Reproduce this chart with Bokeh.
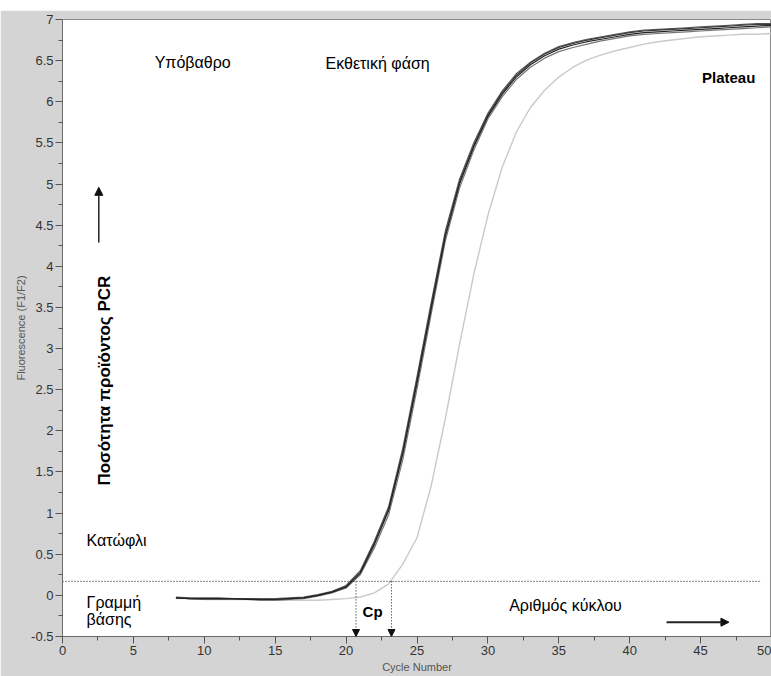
from math import pi
from bokeh.plotting import figure
from bokeh.models import FixedTicker, Label, Arrow, NormalHead, Spacer, Range1d
from bokeh.layouts import column
from bokeh.embed import file_html
from bokeh.resources import INLINE

# ---------------- data ----------------
cycles = [8, 9, 10, 11, 12, 13, 14, 15, 16, 17, 18, 19, 20, 21, 22, 23, 24, 25, 26, 27, 28, 29,
          30, 31, 32, 33, 34, 35, 36, 37, 38, 39, 40, 41, 42, 43, 44, 45, 46, 47, 48, 49, 50]

dark_a = [-0.03, -0.04, -0.04, -0.04, -0.04, -0.05, -0.05, -0.05, -0.04, -0.03, 0.00, 0.04, 0.10,
          0.27, 0.62, 1.03, 1.72, 2.58, 3.48, 4.36, 5.00, 5.45, 5.82, 6.09, 6.30, 6.45, 6.56, 6.64,
          6.69, 6.73, 6.76, 6.79, 6.82, 6.84, 6.85, 6.86, 6.87, 6.88, 6.89, 6.90, 6.91, 6.92, 6.93]
dark_b = [-0.02, -0.03, -0.03, -0.03, -0.04, -0.04, -0.04, -0.04, -0.03, -0.02, 0.01, 0.05, 0.12,
          0.30, 0.66, 1.08, 1.79, 2.66, 3.56, 4.43, 5.06, 5.50, 5.86, 6.13, 6.34, 6.48, 6.59, 6.67,
          6.72, 6.76, 6.79, 6.82, 6.85, 6.87, 6.88, 6.89, 6.90, 6.91, 6.92, 6.93, 6.94, 6.95, 6.95]
dark_c = [-0.03, -0.04, -0.05, -0.05, -0.05, -0.05, -0.06, -0.06, -0.05, -0.04, -0.01, 0.03, 0.09,
          0.25, 0.58, 0.98, 1.65, 2.51, 3.42, 4.31, 4.95, 5.41, 5.79, 6.06, 6.27, 6.42, 6.53, 6.61,
          6.66, 6.70, 6.74, 6.77, 6.80, 6.82, 6.83, 6.84, 6.85, 6.86, 6.87, 6.88, 6.89, 6.90, 6.91]
dark_d = [-0.03, -0.04, -0.04, -0.04, -0.04, -0.04, -0.05, -0.05, -0.04, -0.03, 0.00, 0.04, 0.11,
          0.28, 0.64, 1.05, 1.75, 2.62, 3.52, 4.39, 5.03, 5.47, 5.84, 6.11, 6.32, 6.47, 6.58, 6.66,
          6.71, 6.75, 6.78, 6.81, 6.84, 6.86, 6.87, 6.88, 6.89, 6.90, 6.91, 6.92, 6.93, 6.94, 6.94]
light = [-0.04, -0.04, -0.05, -0.05, -0.05, -0.05, -0.06, -0.06, -0.06, -0.06, -0.06, -0.05, -0.04,
         -0.02, 0.03, 0.14, 0.38, 0.70, 1.33, 2.15, 3.05, 3.90, 4.62, 5.20, 5.63, 5.93, 6.14, 6.30,
         6.42, 6.51, 6.57, 6.62, 6.66, 6.70, 6.73, 6.75, 6.77, 6.79, 6.80, 6.81, 6.82, 6.82, 6.83]

threshold = 0.17
threshold_end = 49.3
cp_values = [20.7, 23.2]

x_ticks = [0, 5, 10, 15, 20, 25, 30, 35, 40, 45, 50]
x_minor = [2.5, 7.5, 12.5, 17.5, 22.5, 27.5, 32.5, 37.5, 42.5, 47.5]
y_ticks = [-0.5, 0, 0.5, 1, 1.5, 2, 2.5, 3, 3.5, 4, 4.5, 5, 5.5, 6, 6.5, 7]
y_tick_labels = ["-0.5", "0", "0.5", "1", "1.5", "2", "2.5", "3", "3.5", "4", "4.5", "5",
                 "5.5", "6", "6.5", "7"]
y_minor = [-0.25, 0.25, 0.75, 1.25, 1.75, 2.25, 2.75, 3.25, 3.75, 4.25, 4.75, 5.25, 5.75,
           6.25, 6.75]

FONT = "Liberation Sans"
GRAY = "#d4d4d4"

# ---------------- figure ----------------
p = figure(width=771, height=666, x_range=Range1d(0, 50), y_range=Range1d(-0.5, 7),
           output_backend="svg", toolbar_location=None,
           min_border_left=62, min_border_right=0, min_border_top=9, min_border_bottom=40,
           background_fill_color="white", border_fill_color=GRAY)
p.xgrid.visible = False
p.ygrid.visible = False
p.outline_line_color = "#8a8a8a"

p.xaxis.ticker = FixedTicker(ticks=x_ticks, minor_ticks=x_minor)
p.yaxis.ticker = FixedTicker(ticks=y_ticks, minor_ticks=y_minor)
p.yaxis.major_label_overrides = {float(t): s for t, s in zip(y_ticks, y_tick_labels)}

for ax in (p.xaxis[0], p.yaxis[0]):
    ax.axis_line_color = "#6a6a6a"
    ax.major_tick_line_color = "#555555"
    ax.minor_tick_line_color = "#555555"
    ax.major_tick_in = 0
    ax.minor_tick_in = 0
    ax.major_tick_out = 7
    ax.minor_tick_out = 4
    ax.major_label_text_font = FONT
    ax.major_label_text_font_size = "13px"
    ax.major_label_text_color = "#333333"
    ax.major_label_standoff = 2
    ax.axis_label_text_font = FONT
    ax.axis_label_text_font_size = "11px"
    ax.axis_label_text_font_style = "normal"
    ax.axis_label_text_color = "#555555"

p.xaxis.axis_label_standoff = 3
p.yaxis.axis_label_standoff = 1
p.xaxis.axis_label = "Cycle Number"
p.yaxis.axis_label = "Fluorescence (F1/F2)"

# curves
p.line(cycles, light, line_color="#c9c9c9", line_width=1.4)
p.line(cycles, dark_c, line_color="#777777", line_width=1.2)
p.line(cycles, dark_b, line_color="#5a5a5a", line_width=1.2)
p.line(cycles, dark_d, line_color="#3a3a3a", line_width=1.2)
p.line(cycles, dark_a, line_color="#222222", line_width=1.2)

# threshold
p.segment(x0=[0], y0=[threshold], x1=[threshold_end], y1=[threshold],
          line_color="#111111", line_width=1, line_dash="1 2")

# Cp arrows
for cp in cp_values:
    p.add_layout(Arrow(x_start=cp, y_start=threshold, x_end=cp, y_end=-0.5,
                       line_color="#111111", line_width=1, line_dash="1 2",
                       end=NormalHead(size=7, fill_color="#111111", line_color="#111111")))

# annotations
def lab(x, y, text, size="16px", bold=False, **kw):
    p.add_layout(Label(x=x, y=y, text=text, text_font=FONT, text_font_size=size,
                       text_font_style="bold" if bold else "normal", text_color="black",
                       text_baseline="middle", text_align=kw.pop("align", "left"), **kw))

lab(6.5, 6.48, "Υπόβαθρο")
lab(18.55, 6.47, "Εκθετική φάση")
lab(45.1, 6.29, "Plateau", size="15px", bold=True)
lab(1.7, 0.667, "Κατώφλι")
lab(1.7, -0.087, "Γραμμή")
lab(1.7, -0.29, "βάσης")
lab(31.5, -0.122, "Αριθμός κύκλου")
lab(21.16, -0.195, "Cp", size="15px", bold=True)
lab(2.96, 2.61, "Ποσότητα προϊόντος PCR", size="17px", bold=True, angle=pi / 2, align="center")

p.add_layout(Arrow(x_start=42.6, y_start=-0.326, x_end=47.0, y_end=-0.326,
                   line_color="#222222", line_width=2,
                   end=NormalHead(size=8, fill_color="#111111", line_color="#111111")))
p.add_layout(Arrow(x_start=2.56, y_start=4.29, x_end=2.56, y_end=4.96,
                   line_color="#222222", line_width=1.5,
                   end=NormalHead(size=8, fill_color="#111111", line_color="#111111")))

layout = column(Spacer(width=771, height=10), p)
open("out.html", "w").write(file_html(layout, INLINE))
